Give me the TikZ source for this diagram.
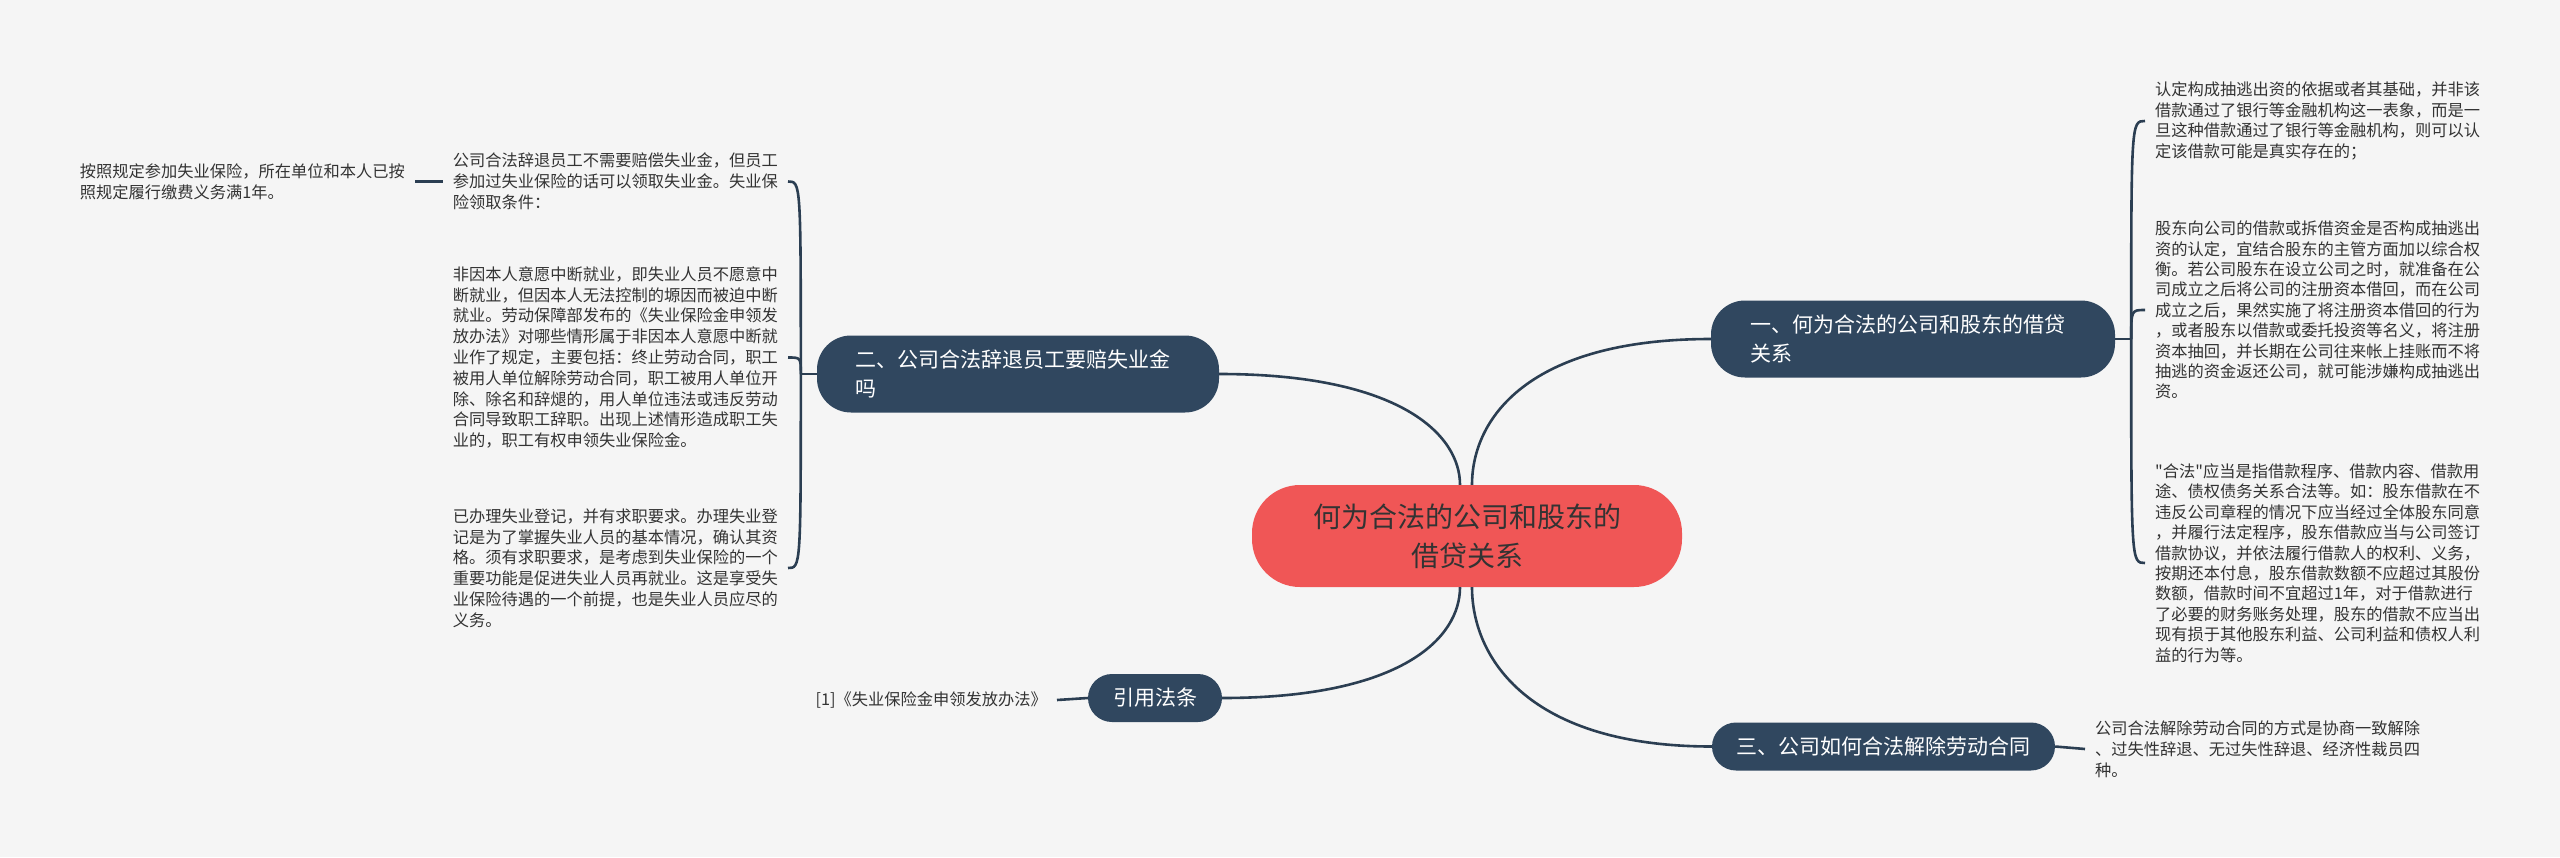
\documentclass[tikz,border=0pt]{standalone}
\usepackage{fontspec}
\newfontfamily\cjk{Noto Sans CJK SC}
\usetikzlibrary{calc}
\definecolor{bgc}{HTML}{F5F5F5}
\definecolor{navy}{HTML}{30475F}
\definecolor{linec}{HTML}{2B3E52}
\definecolor{coral}{HTML}{F05656}
\definecolor{txt}{HTML}{333333}
\begin{document}
\begin{tikzpicture}[x=1pt,y=-1pt,
  conn/.style={draw=linec, line width=2.6pt},
  root/.style={fill=coral, text=txt, rounded corners=48pt, align=center, inner sep=0pt,
    minimum width=430pt, minimum height=102pt, font=\cjk\fontsize{28}{39}\selectfont},
  topic/.style={fill=navy, text=white, rounded corners=34pt, align=left, inner sep=0pt,
    font=\cjk\fontsize{21}{29}\selectfont},
  leafbase/.style={text=txt, align=left, inner xsep=10pt, inner ysep=0pt,
    font=\cjk\fontsize{16.25}{20.8}\selectfont},
  leafL/.style={leafbase, text width=325pt},
  leafR/.style={leafbase, text width=325pt, font=\cjk\fontsize{16.25}{20.4}\selectfont},
]
\fill[bgc] (0,0) rectangle (2560,857);
\useasboundingbox (0,0) rectangle (2560,857);

% central and main topics
\node[root] (c) at (1467,536) {何为合法的公司和股东的\\借贷关系};
\node[topic, minimum width=404pt, minimum height=77pt, text width=326pt] (n1) at (1913,339) {一、何为合法的公司和股东的借贷\\关系};
\node[topic, minimum width=402pt, minimum height=77pt, text width=326pt] (n2) at (1018,374) {二、公司合法辞退员工要赔失业金\\吗};
\node[topic, rounded corners=24pt, minimum width=343pt, minimum height=48pt] (n3) at (1883.5,746.5) {三、公司如何合法解除劳动合同};
\node[topic, rounded corners=24pt, minimum width=134pt, minimum height=48pt] (n4) at (1155,698) {引用法条};

% left leaves
\node[leafL, anchor=east] (tl) at (788,181.5) {公司合法辞退员工不需要赔偿失业金，但员工\\参加过失业保险的话可以领取失业金。失业保\\险领取条件：};
\node[leafL, anchor=east] (ml) at (788,357.5) {非因本人意愿中断就业，即失业人员不愿意中\\断就业，但因本人无法控制的塬因而被迫中断\\就业。劳动保障部发布的《失业保险金申领发\\放办法》对哪些情形属于非因本人意愿中断就\\业作了规定，主要包括：终止劳动合同，职工\\被用人单位解除劳动合同，职工被用人单位开\\除、除名和辞煺的，用人单位违法或违反劳动\\合同导致职工辞职。出现上述情形造成职工失\\业的，职工有权申领失业保险金。};
\node[leafL, anchor=east] (bl) at (788,568) {已办理失业登记，并有求职要求。办理失业登\\记是为了掌握失业人员的基本情况，确认其资\\格。须有求职要求，是考虑到失业保险的一个\\重要功能是促进失业人员再就业。这是享受失\\业保险待遇的一个前提，也是失业人员应尽的\\义务。};
\node[leafL, anchor=east] (a) at (415,181.5) {按照规定参加失业保险，所在单位和本人已按\\照规定履行缴费义务满1年。};
\node[leafbase, anchor=east] (rf) at (1057,700) {[1]《失业保险金申领发放办法》};

% right leaves
\node[leafR, anchor=west] (r1) at (2145,121) {认定构成抽逃出资的依据或者其基础，并非该\\借款通过了银行等金融机构这一表象，而是一\\旦这种借款通过了银行等金融机构，则可以认\\定该借款可能是真实存在的；};
\node[leafR, anchor=west] (r2) at (2145,310) {股东向公司的借款或拆借资金是否构成抽逃出\\资的认定，宜结合股东的主管方面加以综合权\\衡。若公司股东在设立公司之时，就准备在公\\司成立之后将公司的注册资本借回，而在公司\\成立之后，果然实施了将注册资本借回的行为\\，或者股东以借款或委托投资等名义，将注册\\资本抽回，并长期在公司往来帐上挂账而不将\\抽逃的资金返还公司，就可能涉嫌构成抽逃出\\资。};
\node[leafR, anchor=west] (r3) at (2145,563) {"合法"应当是指借款程序、借款内容、借款用\\途、债权债务关系合法等。如：股东借款在不\\违反公司章程的情况下应当经过全体股东同意\\，并履行法定程序，股东借款应当与公司签订\\借款协议，并依法履行借款人的权利、义务，\\按期还本付息，股东借款数额不应超过其股份\\数额，借款时间不宜超过1年，对于借款进行\\了必要的财务账务处理，股东的借款不应当出\\现有损于其他股东利益、公司利益和债权人利\\益的行为等。};
\node[leafR, anchor=west, font=\cjk\fontsize{16.25}{20.8}\selectfont] (r4) at (2085,749) {公司合法解除劳动合同的方式是协商一致解除\\、过失性辞退、无过失性辞退、经济性裁员四\\种。};

% main curves
\draw[conn] ($(c.north)+(-7,0)$) .. controls +(0,-50) and +(181,0) .. (n2.east);
\draw[conn] ($(c.north)+(5,0)$) .. controls +(0,-66) and +(-183,0) .. (n1.west);
\draw[conn] ($(c.south)+(-7,0)$) .. controls +(0,50) and +(181,0) .. (n4.east);
\draw[conn] ($(c.south)+(5,0)$) .. controls +(0,71) and +(-183,0) .. (n3.west);

% right bracket
\coordinate (j1) at ($(n1.east)+(16,0)$);
\draw[conn] (n1.east) -- (j1);
\foreach \t in {r1,r2,r3}
  \draw[conn] (j1) .. controls (j1 |- \t.west) and (j1 |- \t.west) .. (\t.west);

% left bracket
\coordinate (j2) at ($(n2.west)+(-16,0)$);
\draw[conn] (n2.west) -- (j2);
\foreach \t in {tl,ml,bl}
  \draw[conn] (j2) .. controls (j2 |- \t.east) and (j2 |- \t.east) .. (\t.east);

% simple links
\draw[conn] (a.east) -- (tl.west);
\draw[conn] (rf.east) -- (n4.west);
\draw[conn] (n3.east) -- (r4.west);
\end{tikzpicture}
\end{document}
